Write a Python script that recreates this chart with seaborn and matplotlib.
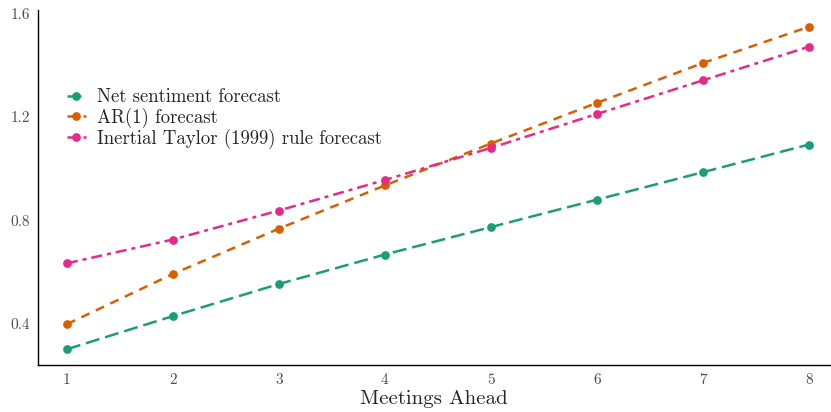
import matplotlib
matplotlib.use("Agg")
import matplotlib.pyplot as plt
import seaborn as sns
import pandas as pd

meetings = [1, 2, 3, 4, 5, 6, 7, 8]
net_sentiment = [0.303, 0.431, 0.555, 0.669, 0.775, 0.881, 0.987, 1.094]
ar1 = [0.400, 0.594, 0.769, 0.936, 1.098, 1.255, 1.409, 1.549]
taylor = [0.635, 0.727, 0.839, 0.957, 1.081, 1.212, 1.342, 1.472]
labels = ["Net sentiment forecast", "AR(1) forecast", "Inertial Taylor (1999) rule forecast"]
yticks = [0.4, 0.8, 1.2, 1.6]

sns.set_theme(style="white")
plt.rcParams["font.family"] = ["cmr10", "DejaVu Serif"]
plt.rcParams["mathtext.fontset"] = "cm"
plt.rcParams["axes.formatter.use_mathtext"] = True

df = pd.DataFrame({
    "Meetings Ahead": meetings * 3,
    "value": net_sentiment + ar1 + taylor,
    "series": [labels[0]] * 8 + [labels[1]] * 8 + [labels[2]] * 8,
})

colors = {labels[0]: "#1b9e77", labels[1]: "#d95f02", labels[2]: "#e7298a"}
dashes = {labels[0]: (5.6, 2.4), labels[1]: (3.6, 2.8), labels[2]: (4.4, 2.0, 1.6, 2.0)}

fig = plt.figure(figsize=(8.31, 4.12), dpi=100)
ax = fig.add_axes([38 / 831, 47 / 412, 792 / 831, 355 / 412])
sns.lineplot(data=df, x="Meetings Ahead", y="value", hue="series", style="series",
             palette=colors, dashes=dashes, markers={l: "o" for l in labels},
             markersize=6.3, markeredgewidth=0, linewidth=1.8, ax=ax)

ax.set_xlim(0.727, 8.2)
ax.set_ylim(0.242, 1.614)
ax.set_xticks(meetings)
ax.set_xticklabels([str(m) for m in meetings])
ax.set_yticks(yticks)
ax.set_yticklabels([f"{t:.1f}" for t in yticks])
ax.tick_params(axis="both", length=0, labelsize=11, labelcolor="#4d4d4d", pad=6)
ax.set_xlabel("Meetings Ahead", fontsize=15, labelpad=2)
ax.set_ylabel("")
for s in ["top", "right"]:
    ax.spines[s].set_visible(False)
for s in ["left", "bottom"]:
    ax.spines[s].set_color("black")
    ax.spines[s].set_linewidth(1.0)

leg = ax.legend(loc="upper left", bbox_to_anchor=(0.027, 0.80), frameon=False,
                fontsize=13.5, handlelength=1.0, handletextpad=0.6,
                labelspacing=0.05, borderaxespad=0, title=None)

fig.savefig("out.png", dpi=100)
